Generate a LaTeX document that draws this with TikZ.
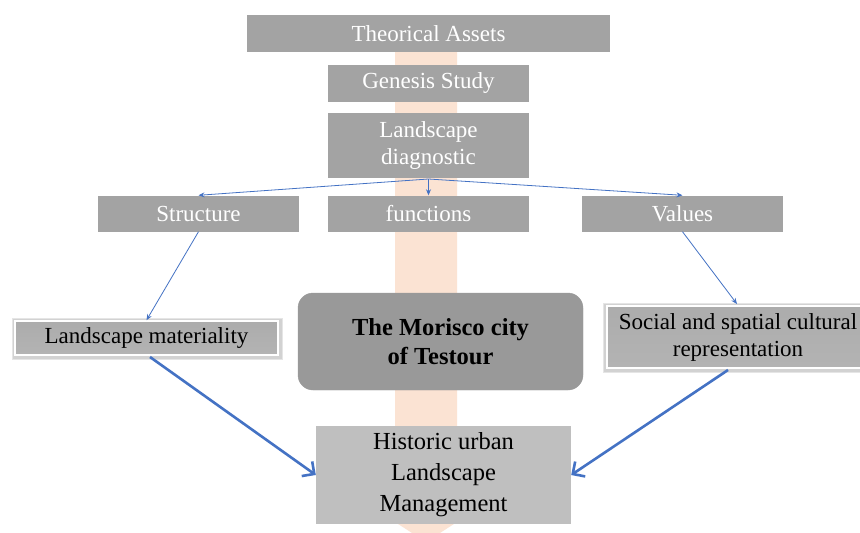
\documentclass[tikz,border=0pt]{standalone}
\usepackage{fontspec}
\setmainfont{Liberation Serif}
\usetikzlibrary{arrows.meta}
\definecolor{boxgray}{HTML}{A3A3A3}
\definecolor{darkbox}{HTML}{999999}
\definecolor{lightbox}{HTML}{BFBFBF}
\definecolor{peach}{HTML}{FBE3D3}
\definecolor{linkblue}{HTML}{4472C4}
\tikzset{
  topbox/.style={fill=boxgray, text=white, inner sep=0pt, align=center,
    font=\fontsize{23}{27}\selectfont},
  framedbox/.style={top color=boxgray!90, bottom color=boxgray!110!black, draw=white,
    line width=1.6pt, text=black, inner sep=0pt, align=center,
    font=\fontsize{23}{27}\selectfont},
  citybox/.style={fill=darkbox, draw=gray!80, line width=0.4pt, rounded corners=15pt,
    inner sep=0pt, align=center, font=\bfseries\fontsize{24.5}{29}\selectfont},
  goalbox/.style={fill=lightbox, inner sep=0pt, align=center,
    font=\fontsize{24.5}{31}\selectfont},
  thin link/.style={draw=linkblue, line width=0.8pt,
    -{Stealth[length=6pt,width=5pt]}},
  thick link/.style={draw=linkblue, line width=2.6pt,
    -{Straight Barb[length=9pt,width=18pt,line width=2.6pt]}},
}
\begin{document}
\begin{tikzpicture}[x=1pt,y=-1pt]
\clip (0,0) rectangle (860,533);
\fill[white] (0,0) rectangle (860,533);
% vertical band running behind the whole chain
\fill[peach] (395,40) -- (395,522) -- (426,542) -- (457,522) -- (457,40) -- cycle;

% upper chain
\node[topbox, minimum width=363pt, minimum height=37pt] (assets) at (428.5,33.5) {Theorical Assets};
\node[topbox, minimum width=201pt, minimum height=37pt] (genesis) at (428.5,83.5) {Genesis Study};
\node[topbox, minimum width=201pt, minimum height=65pt] (diag) at (428.5,145.5) {Landscape\\diagnostic};

\node[topbox, minimum width=201pt, minimum height=36pt] (structure) at (198.5,213.5) {Structure};
\node[topbox, minimum width=201pt, minimum height=36pt] (functions) at (428.5,213.5) {functions};
\node[topbox, minimum width=201pt, minimum height=36pt] (values) at (682.5,213.5) {Values};

% side boxes with a soft outer shadow
\fill[gray!20] (12,318) rectangle (283,360);
\fill[gray!35] (13,319) rectangle (282,359);
\fill[gray!20] (603,303) rectangle (872,373);
\fill[gray!35] (604,304) rectangle (871,372);
\node[framedbox, minimum width=263pt, minimum height=34pt] (material) at (146.5,338) {Landscape materiality};
\node[framedbox, minimum width=262pt, minimum height=62pt] (social) at (738,337) {Social and spatial cultural\\representation};

% central boxes
\node[citybox, minimum width=285pt, minimum height=97pt] (city) at (440.5,341.5) {The Morisco city\\of Testour};
\node[goalbox, minimum width=255pt, minimum height=98pt] (hul) at (443.5,475) {Historic urban\\Landscape\\Management};

% thin connectors from the diagnostic
\coordinate (dsplit) at (428.5,179);
\draw[thin link] (dsplit) -- (structure.north);
\draw[thin link] (dsplit) -- (functions.north);
\draw[thin link] (dsplit) -- (values.north);
\draw[thin link] (structure.south) -- (material.north);
\draw[thin link] (values.south) -- (737,304);

% thick connectors into the management box
\draw[thick link] (150,357) -- (hul.west);
\draw[thick link] (728,370) -- (hul.east);
\end{tikzpicture}
\end{document}
